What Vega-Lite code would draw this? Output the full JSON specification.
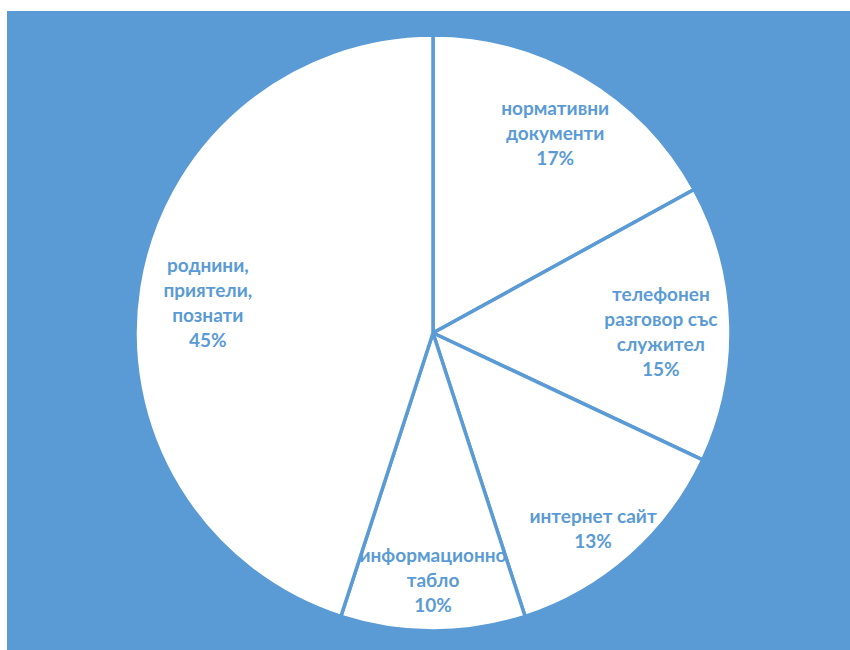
{
  "$schema": "https://vega.github.io/schema/vega-lite/v6.json",
  "width": 850,
  "height": 650,
  "autosize": {"type": "fit", "contains": "padding"},
  "padding": {"left": 7, "top": 11, "right": -9, "bottom": -5},
  "background": "white",
  "view": {"fill": "#5B9BD5", "stroke": null},
  "data": {
    "values": [
      {"category": "нормативни\nдокументи", "value": 17},
      {"category": "телефонен\nразговор със\nслужител", "value": 15},
      {"category": "интернет сайт", "value": 13},
      {"category": "информационно\nтабло", "value": 10},
      {"category": "роднини,\nприятели,\nпознати", "value": 45}
    ]
  },
  "transform": [
    {"window": [{"op": "row_number", "as": "idx"}]},
    {"calculate": "datum.category + '\\n' + datum.value + '%'", "as": "label"},
    {"calculate": "length(split(datum.label, '\\n'))", "as": "lines"},
    {"stack": "value", "groupby": [], "sort": [{"field": "idx", "order": "ascending"}], "as": ["t0", "t1"]},
    {"calculate": "(datum.t0 + datum.t1) / 2", "as": "tmid"}
  ],
  "layer": [
    {
      "mark": {"type": "arc", "outerRadius": 298, "fill": "white", "stroke": "#5B9BD5", "strokeWidth": 3.5},
      "encoding": {
        "theta": {"field": "t0", "type": "quantitative", "scale": {"domain": [0, 100]}},
        "theta2": {"field": "t1"}
      }
    },
    {
      "transform": [{"filter": "datum.lines == 2"}],
      "mark": {"type": "text", "radius": 242, "dy": 2, "lineBreak": "\n", "font": "Lato", "fontWeight": "bold", "fontSize": 19, "lineHeight": 25, "fill": "#5B9BD5", "align": "center", "baseline": "middle"},
      "encoding": {
        "theta": {"field": "tmid", "type": "quantitative"},
        "text": {"field": "label", "type": "nominal"}
      }
    },
    {
      "transform": [{"filter": "datum.lines == 3"}],
      "mark": {"type": "text", "radius": 240, "dy": -17, "lineBreak": "\n", "font": "Lato", "fontWeight": "bold", "fontSize": 19, "lineHeight": 25, "fill": "#5B9BD5", "align": "center", "baseline": "middle"},
      "encoding": {
        "theta": {"field": "tmid", "type": "quantitative"},
        "text": {"field": "label", "type": "nominal"}
      }
    },
    {
      "transform": [{"filter": "datum.lines == 4"}],
      "mark": {"type": "text", "radius": 228, "dy": -31, "lineBreak": "\n", "font": "Lato", "fontWeight": "bold", "fontSize": 19, "lineHeight": 25, "fill": "#5B9BD5", "align": "center", "baseline": "middle"},
      "encoding": {
        "theta": {"field": "tmid", "type": "quantitative"},
        "text": {"field": "label", "type": "nominal"}
      }
    }
  ]
}
